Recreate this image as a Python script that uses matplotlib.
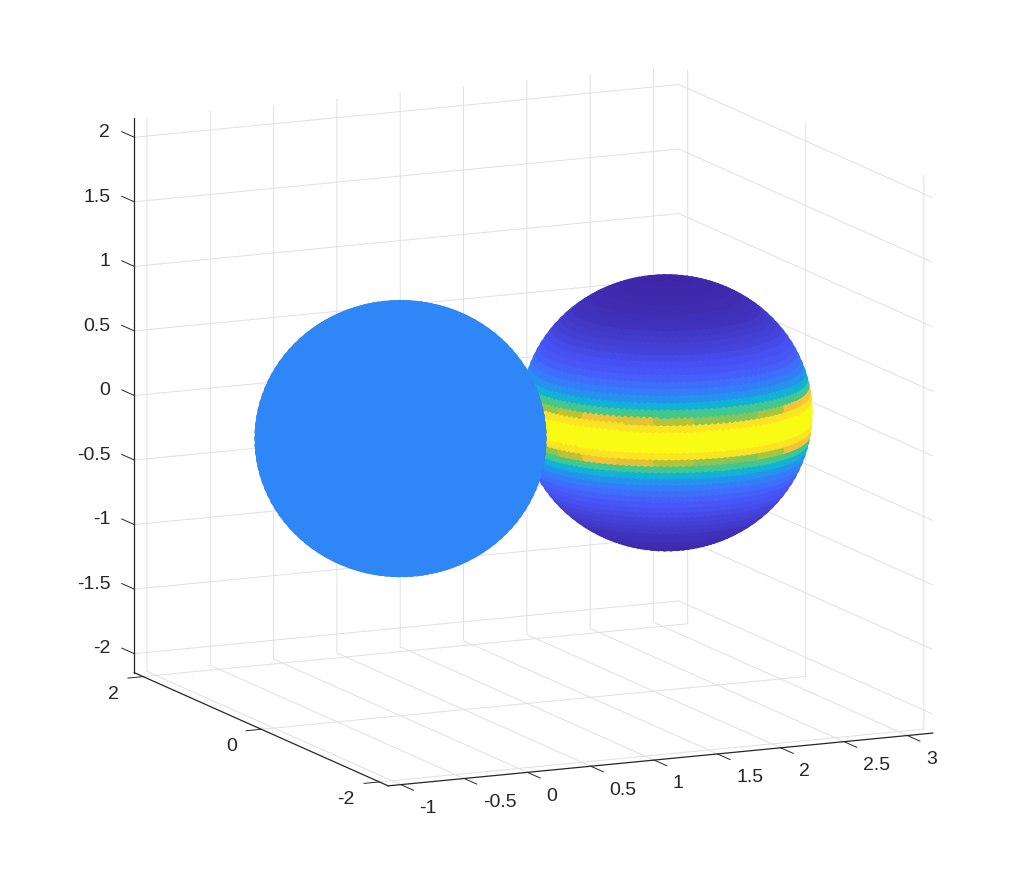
import numpy as np
import matplotlib
matplotlib.use("Agg")
import matplotlib.pyplot as plt
from matplotlib.colors import LinearSegmentedColormap
from mpl_toolkits.mplot3d import proj3d

plt.rcParams['font.family'] = ['Liberation Sans', 'DejaVu Sans']

# ---- values ----
x_ticks = [-1, -0.5, 0, 0.5, 1, 1.5, 2, 2.5, 3]
x_tick_labels = ['-1', '-0.5', '0', '0.5', '1', '1.5', '2', '2.5', '3']
y_ticks = [-2, 0, 2]
y_tick_labels = ['-2', '0', '2']
z_ticks = [-2, -1.5, -1, -0.5, 0, 0.5, 1, 1.5, 2]
z_tick_labels = ['-2', '-1.5', '-1', '-0.5', '0', '0.5', '1', '1.5', '2']
x_limits = (-1.10, 3.20)
y_limits = (-2.15, 2.15)
z_limits = (-2.147, 2.147)
view_elev = 12
view_azim = -115

left_center = (0.0, 0.0, 0.0)
right_center = (2.1, 0.0, 0.0)
radius = 1.012
left_value = 0.3

# colour value of each ring of the right sphere, by |latitude|
ring_latitude = [0, 3, 6, 9, 12, 15, 18, 21, 24, 27, 30, 33, 36, 39, 42, 45,
                 48, 51, 54, 57, 60, 63, 66, 69, 72, 75, 78, 81, 84, 87, 90]
ring_value = [1.0, 1.0, 0.96, 0.80, 0.58, 0.41, 0.33, 0.27, 0.22, 0.17, 0.12, 0.10, 0.085, 0.07, 0.06, 0.05,
              0.04, 0.03, 0.025, 0.02, 0.015, 0.012, 0.01, 0.008, 0.006, 0.005, 0.004, 0.003, 0.002, 0.001, 0.0]
# the edge ring (|lat| = 9) changes with longitude
edge_latitude = 9
edge_lon_bins = [-180, -165, -150, -135, -120, -105, -90, -75, -60, -45, 180]
edge_values = [0.72, 0.80, 0.88, 0.85, 0.78, 0.72, 0.70, 0.76, 0.88, 0.90]

parula_pos = [0, 0.1, 0.2, 0.3, 0.4, 0.6, 0.8, 0.9, 1.0]
parula_rgb = [(.2422, .1504, .6603), (.2810, .3228, .9579), (.2647, .4030, .9935),
              (.1786, .5289, .9682), (.0600, .6900, .8500), (.2809, .7964, .5266),
              (.7500, .7600, .1900), (.9970, .7659, .2199), (.9769, .9839, .0805)]
parula = LinearSegmentedColormap.from_list('parula', list(zip(parula_pos, parula_rgb)))

# ---- points ----
lat_signed = [s * l for l in ring_latitude for s in ((1, -1) if l else (1,))]
px, py, pz, pv = [], [], [], []
for center, is_right in ((left_center, False), (right_center, True)):
    for lat in lat_signed:
        n = max(1, int(round(140 * np.cos(np.radians(lat)))))
        lon = np.linspace(-180, 180, n, endpoint=False) + (lat % 6) * 0.5
        la, lo = np.radians(lat), np.radians(lon)
        px.append(center[0] + radius * np.cos(la) * np.cos(lo))
        py.append(center[1] + radius * np.cos(la) * np.sin(lo))
        pz.append(np.full(n, center[2] + radius * np.sin(la)))
        if not is_right:
            pv.append(np.full(n, left_value))
        elif abs(lat) == edge_latitude:
            idx = np.clip(np.digitize(lon, edge_lon_bins) - 1, 0, len(edge_values) - 1)
            pv.append(np.array(edge_values)[idx])
        else:
            pv.append(np.full(n, ring_value[ring_latitude.index(abs(lat))]))
px, py, pz, pv = map(np.concatenate, (px, py, pz, pv))

# ---- figure ----
fig = plt.figure(figsize=(10.30, 8.82), dpi=100, facecolor='white')
ax = fig.add_axes([0, 0, 1, 1], projection='3d', proj_type='ortho')
ax.view_init(elev=view_elev, azim=view_azim)
ax.set_xlim(*x_limits, view_margin=0)
ax.set_ylim(*y_limits, view_margin=0)
ax.set_zlim(*z_limits, view_margin=0)
box = (600, 600, 566)
ax.set_box_aspect(box, zoom=1.0)
ax.patch.set_alpha(0)

ax.set_xticks(x_ticks); ax.set_xticklabels(x_tick_labels)
ax.set_yticks(y_ticks); ax.set_yticklabels(y_tick_labels)
ax.set_zticks(z_ticks); ax.set_zticklabels(z_tick_labels)
ax.tick_params(colors='#262626', labelsize=14, pad=0)

for axis in (ax.xaxis, ax.yaxis, ax.zaxis):
    axis.set_pane_color((1, 1, 1, 0))
    axis.pane.set_edgecolor((1, 1, 1, 0))
    axis.line.set_color('#262626')
    axis.line.set_linewidth(0.9)
    axis._axinfo['grid'].update(color='#e0e0e0', linewidth=0.7)
ax.xaxis._axinfo['tick'].update(inward_factor=0.0, outward_factor=-0.62, linewidth={True: 0.7, False: 0.5})
ax.yaxis._axinfo['tick'].update(inward_factor=0.0, outward_factor=-0.35, linewidth={True: 0.7, False: 0.5})
ax.zaxis._axinfo['tick'].update(inward_factor=0.0, outward_factor=0.62, linewidth={True: 0.7, False: 0.5})
ax.grid(True)

# tick marks and label offsets as in the reference
ax.zaxis._get_tickdir = lambda pos: 1
ax.xaxis._axmask = lambda: np.array([0.0, 3.05, 1.16])
ax.yaxis._axmask = lambda: np.array([1.85, 0.0, 1.14])
ax.zaxis._axmask = lambda: np.array([0.83, 2.13, 0.0])
for t in ax.get_xticklabels():
    t.set_va('center')
    t.set_ha('left')
for t in ax.get_yticklabels() + ax.get_zticklabels():
    t.set_va('center')
    t.set_ha('right')

ax.scatter(px, py, pz, c=parula(pv), s=48, marker='o', linewidths=0,
           edgecolors='none', depthshade=False, alpha=1)


def pixel(x, y, z):
    xs, ys, _ = proj3d.proj_transform(x, y, z, ax.get_proj())
    return ax.transData.transform((xs, ys))


# fit the box on the wanted pixels: left edge 134.3, right 932.7, top 118.3
fig.canvas.draw()
p_left = pixel(x_limits[0], y_limits[1], z_limits[1])
p_right = pixel(x_limits[1], y_limits[0], z_limits[0])
ax.set_box_aspect(box, zoom=(932.7 - 134.3) / (p_right[0] - p_left[0]))
fig.canvas.draw()
p_left = pixel(x_limits[0], y_limits[1], z_limits[1])
dx = 134.3 - p_left[0]
dy = (882 - 118.3) - p_left[1]
pos = ax.get_position(original=True)
ax.set_position([pos.x0 + dx / 1030, pos.y0 + dy / 882, pos.width, pos.height])

fig.savefig('out.png', dpi=100, facecolor='white')
